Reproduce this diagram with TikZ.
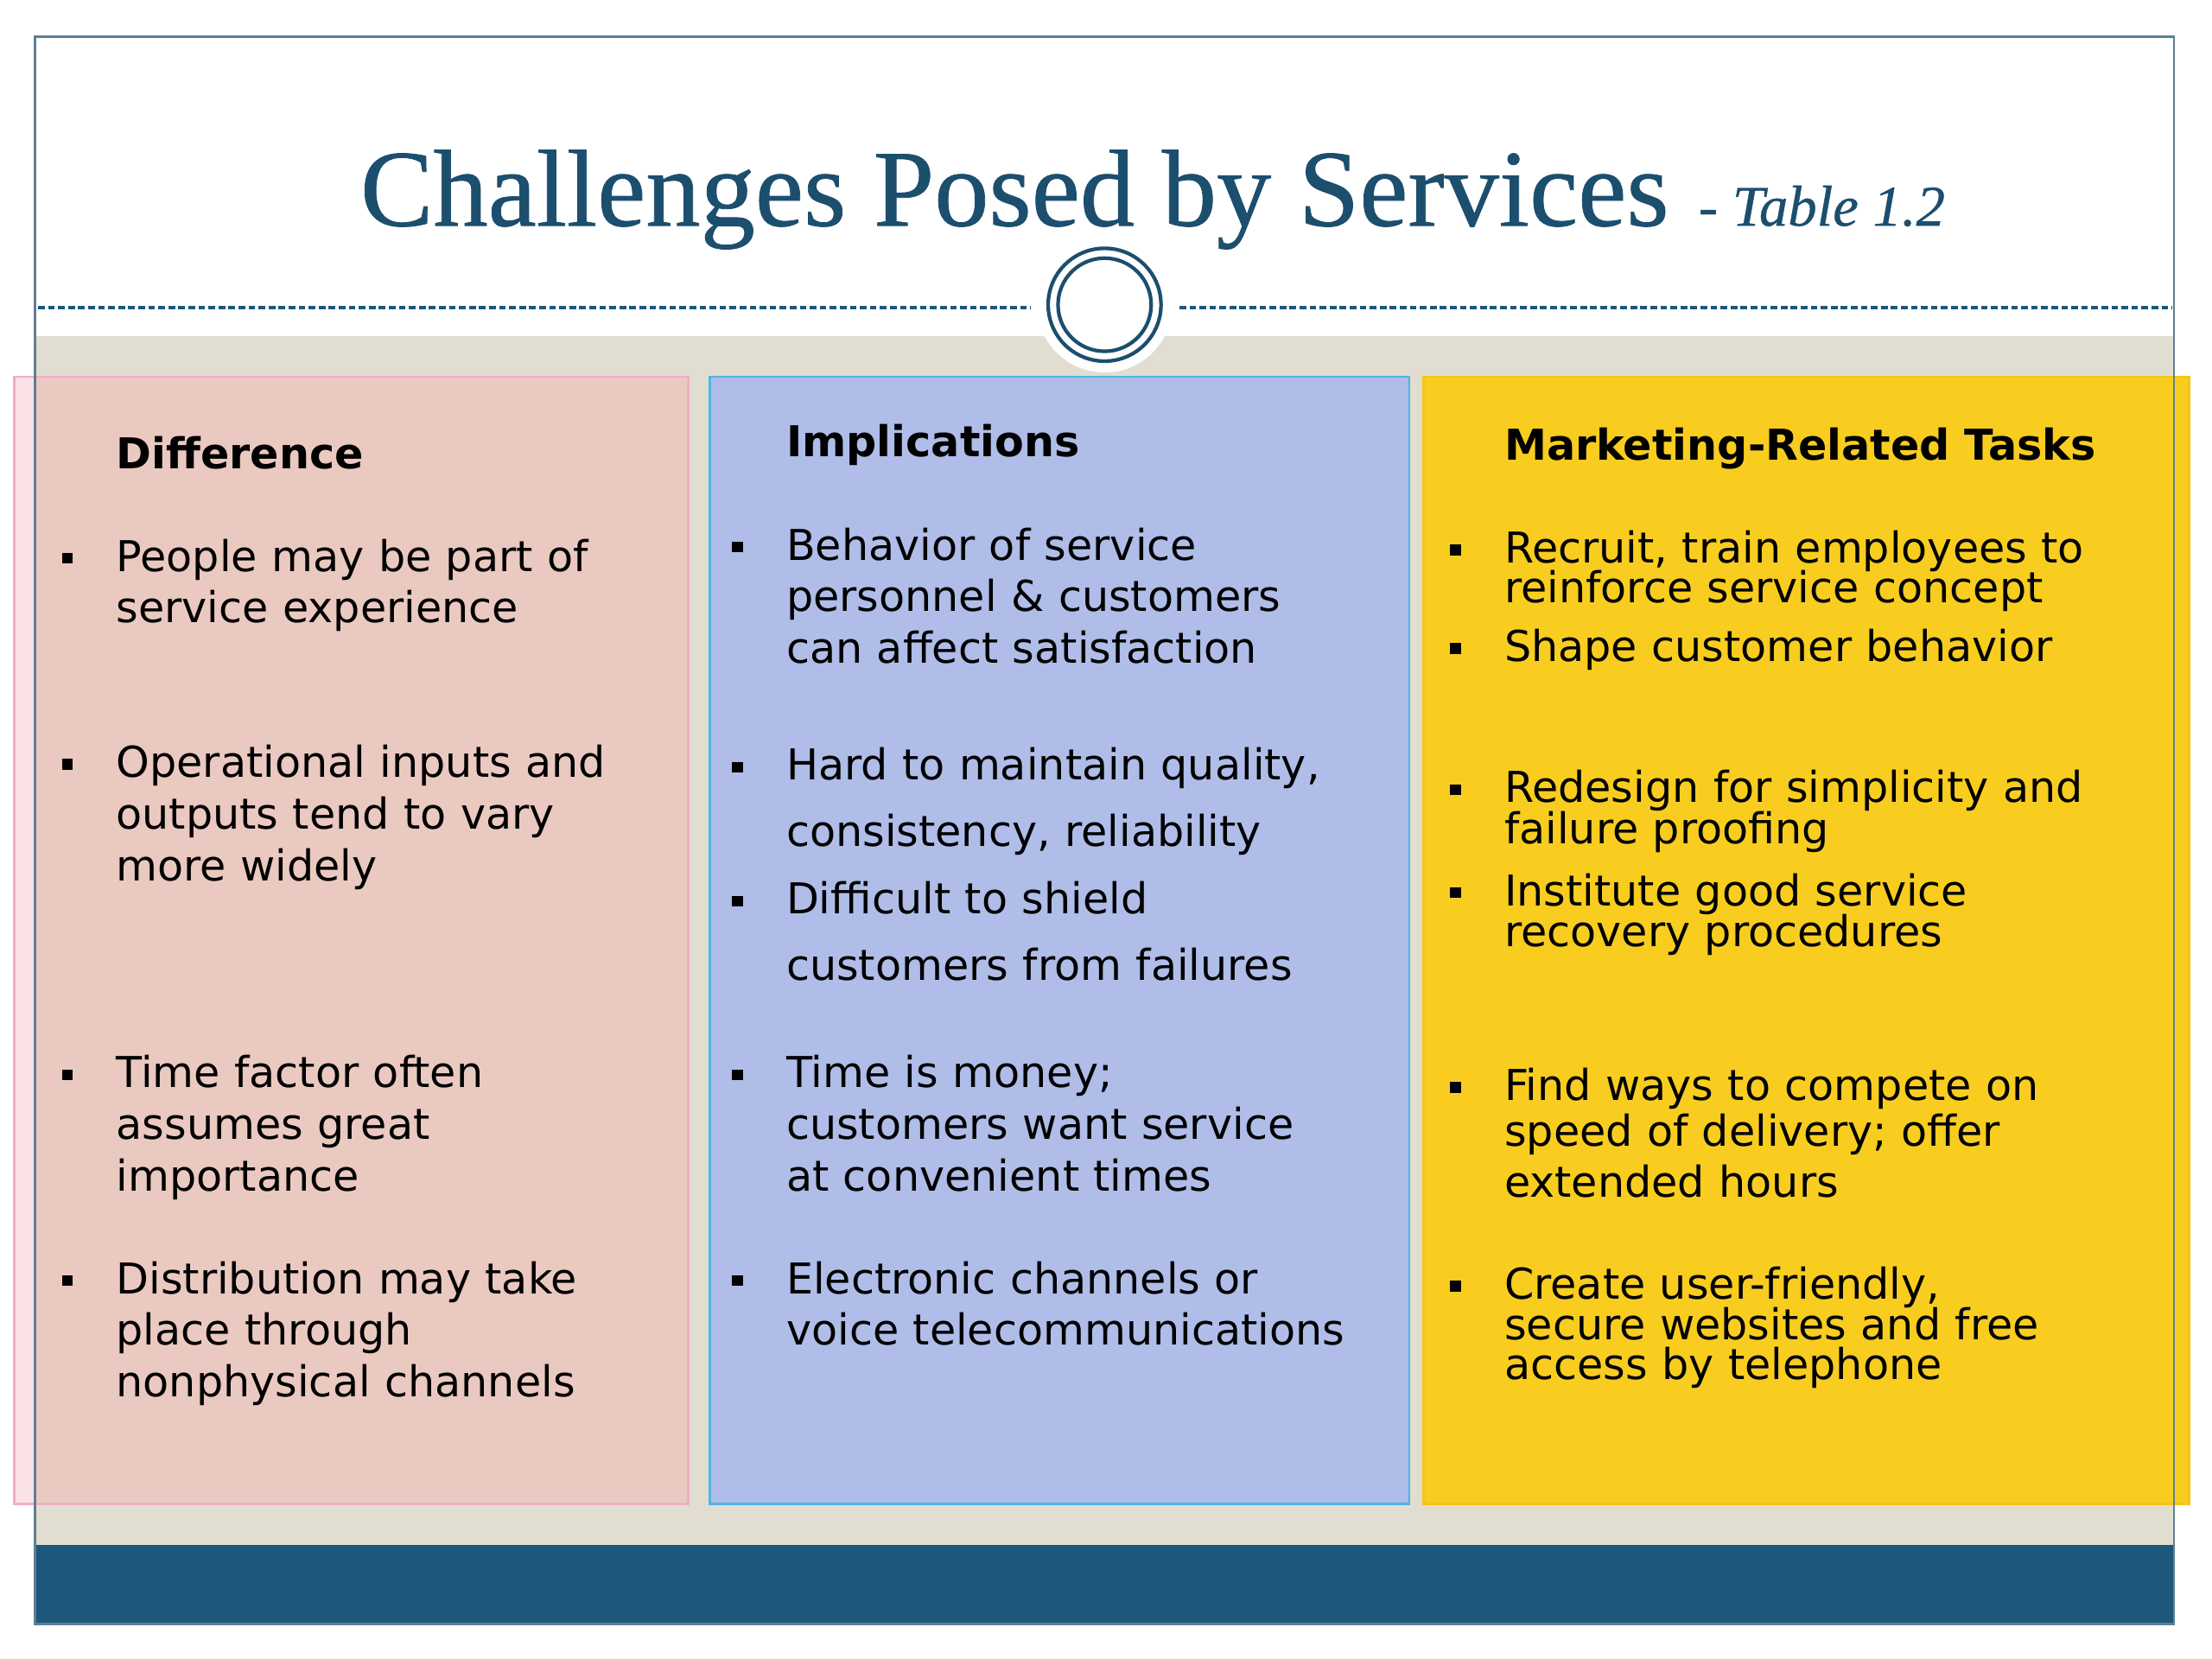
\documentclass[tikz,border=0pt]{standalone}
\usepackage{fontspec}
\setmainfont{DejaVu Sans}
\newfontfamily\titlefont[FakeBold=0.6]{Liberation Serif}
\usetikzlibrary{positioning}

\definecolor{titleblue}{RGB}{28,78,110}
\definecolor{framegray}{RGB}{96,126,148}
\definecolor{beige}{RGB}{225,222,209}
\definecolor{pinkfill}{RGB}{234,201,193}
\definecolor{pinkpale}{RGB}{250,226,230}
\definecolor{pinkline}{RGB}{243,172,198}
\definecolor{bluefill}{RGB}{175,189,232}
\definecolor{blueline}{RGB}{77,181,227}
\definecolor{yellowfill}{RGB}{248,205,31}
\definecolor{yellowline}{RGB}{246,196,24}
\definecolor{footerblue}{RGB}{29,87,123}
\newcommand\itemfont{\fontsize{14}{17}\selectfont\lineskiplimit=-20pt\relax}

\begin{document}
\begin{tikzpicture}[x=0.16327mm, y=-0.16327mm,
    title/.style={anchor=base west, inner sep=0, text=titleblue, font=\titlefont\fontsize{36}{40}\selectfont},
    sub/.style={inner sep=0, text=titleblue, font=\titlefont\itshape\fontsize{19}{22}\selectfont},
    head/.style={anchor=base west, inner sep=0, font=\fontsize{14}{17}\selectfont\bfseries},
    item/.style={anchor=base west, align=left, text width=80mm, inner sep=0, font=\itemfont},
    bul/.style={fill=black, inner sep=0, minimum size=1.25mm},
    dashline/.style={draw=footerblue, line width=1.1pt, dash pattern=on 2.2pt off 1.1pt},
    ring/.style={draw=titleblue, line width=1.2pt},
    ]
                        \useasboundingbox (0,0) rectangle (1568,1176);

                        \fill[beige] (25,238) rectangle (1541,1095);
                        \fill[white] (783,216) circle (7.84mm);
                        \draw[dashline] (27,218) -- (731,218);
                        \draw[dashline] (836,218) -- (1540,218);
                        \draw[ring] (783,216) circle (6.53mm);
                        \draw[ring] (783,216) circle (5.39mm);

                        \fill[pinkfill] (10,267) rectangle (488,1066);
                        \fill[pinkpale] (10,267) rectangle (25,1066);
                        \draw[pinkline, line width=0.8pt] (10,267) rectangle (488,1066);
                        \filldraw[fill=bluefill, draw=blueline, line width=0.8pt] (503,267) rectangle (999,1066);
                        \filldraw[fill=yellowfill, draw=yellowline, line width=0.8pt] (1009,267) rectangle (1552,1066);

                        \fill[footerblue] (25,1095) rectangle (1541,1151);
                        \draw[framegray, line width=0.75pt] (25,26) rectangle (1541,1151);

                        \node [title](ttl) at (255,160){Challenges Posed by Services};
                        \node [sub, right=3.3mm of ttl.base east, anchor=base west](tbl){- Table 1.2};

                        \node [head](hd) at (82,332){Difference};
                        \node [item](d1) at (82,405){People may be part of\\service experience};
                        \node [item](d2) at (82,551){Operational inputs and\\outputs tend to vary\\more widely};
                        \node [item](d3) at (82,771){Time factor often\\assumes great\\importance};
                        \node [item](d4) at (82,917){Distribution may take\\place through\\nonphysical channels};

                        \node [head](hi) at (557,324){Implications};
                        \node [item](i1) at (557,397){Behavior of service\\personnel \& customers\\can affect satisfaction};
                        \node [item](i2) at (557,553){Hard to maintain quality,\\[4.8pt]consistency, reliability};
                        \node [item](i3) at (557,648){Difficult to shield\\[4.8pt]customers from failures};
                        \node [item](i4) at (557,771){Time is money;\\customers want service\\at convenient times};
                        \node [item](i5) at (557,917){Electronic channels or\\voice telecommunications};

                        \node [head](hm) at (1066,326){Marketing-Related Tasks};
                        \node [item](m1) at (1066,399){Recruit, train employees to\\[-3.8pt]reinforce service concept};
                        \node [item](m2) at (1066,469){Shape customer behavior};
                        \node [item](m3) at (1066,569){Redesign for simplicity and\\[-3.5pt]failure proofing};
                        \node [item](m4) at (1066,642){Institute good service\\[-3.5pt]recovery procedures};
                        \node [item](m5) at (1066,780){Find ways to compete on\\[-2pt]speed of delivery; offer\\extended hours};
                        \node [item](m6) at (1066,921){Create user-friendly,\\[-3.8pt]secure websites and free\\[-3.8pt]access by telephone};

                        \foreach \n in {d1,d2,d3,d4,i1,i2,i3,i4,i5,m1,m2,m3,m4,m5,m6}
                            \node [bul, left=4.9mm of \n.base west, yshift=1.5mm](b\n){};
                    \end{tikzpicture}
\end{document}
